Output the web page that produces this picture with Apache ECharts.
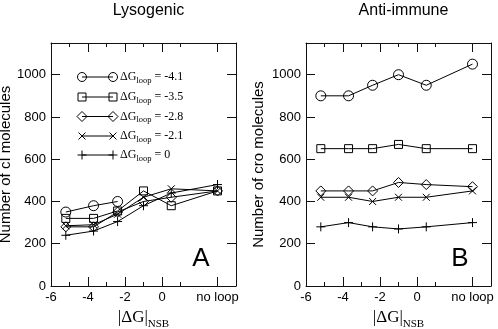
<!DOCTYPE html>
<html><head><meta charset="utf-8">
<script src="https://cdn.jsdelivr.net/npm/echarts@6/dist/echarts.min.js"></script>
<style>html,body{margin:0;padding:0;background:#fff}#c{width:498px;height:329px}</style>
</head><body><div id="c"></div>
<script>
// ---- data ----
const xPositions = [-5.2, -3.7, -2.4, -1.0, 0.5, 3];
const xTickValues = [-6, -4, -2, 0, 3];
const xTickLabels = ['-6', '-4', '-2', '0', 'no loop'];
const xMinorTicks = [-5, -3, -1, 1];
const yTickValues = [0, 200, 400, 600, 800, 1000];
const legendValues = ['-4.1', '-3.5', '-2.8', '-2.1', '0'];
const panelTitles = ['Lysogenic', 'Anti-immune'];
const panelYNames = ['Number of cI molecules', 'Number of cro molecules'];
const panelLetters = ['A', 'B'];

const lysoCircle  = [350, 380, 400];
const lysoSquare  = [320, 320, 355, 450, 380, 450];
const lysoDiamond = [280, 280, 350, 400, 420, 450];
const lysoCross   = [285, 290, 340, 420, 460, 450];
const lysoPlus    = [240, 260, 305, 380, 440, 480];

const antiCircle  = [900, 900, 950, 1000, 950, 1050];
const antiSquare  = [650, 650, 650, 670, 650, 650];
const antiDiamond = [450, 450, 450, 490, 480, 470];
const antiCross   = [420, 420, 400, 420, 420, 450];
const antiPlus    = [280, 300, 280, 270, 280, 300];

// ---- styling ----
const SANS = '"Liberation Sans", Arial, sans-serif';
const SERIF = '"Liberation Serif", "Times New Roman", serif';
const AX = '#111';
const symbolDefs = [
  {symbol: 'circle', size: 10},
  {symbol: 'rect', size: 8},
  {symbol: 'diamond', size: 10},
  {symbol: 'path://M0,0L8,8M8,0L0,8', size: 7},
  {symbol: 'path://M4,0L4,8M0,4L8,4', size: 9}
];
const panels = [
  {left: 51, series: [lysoCircle, lysoSquare, lysoDiamond, lysoCross, lysoPlus], yNameGap: 36},
  {left: 306, series: [antiCircle, antiSquare, antiDiamond, antiCross, antiPlus], yNameGap: 40}
];
const GW = 185, GT = 43, GH = 243;

const grids = [], xAxes = [], yAxes = [], series = [], titles = [];
const lineSt = {color: AX, width: 1};
panels.forEach((p, g) => {
  grids.push({left: p.left, top: GT, width: GW, height: GH, outerBoundsMode: 'none'});
  const baseX = {gridIndex: g, type: 'value', min: -6, max: 4, splitLine: {show: false}};
  xAxes.push(Object.assign({}, baseX, {
    position: 'bottom',
    axisLine: {show: true, onZero: false, lineStyle: lineSt},
    axisTick: {show: true, inside: true, length: 9, customValues: xTickValues, lineStyle: lineSt},
    axisLabel: {customValues: xTickValues, margin: 5, fontSize: 13, color: '#000', fontFamily: SANS,
      formatter: v => { const i = xTickValues.indexOf(v); return i >= 0 ? xTickLabels[i] : ''; }},
    name: '{a||ΔG|}{s|NSB}', nameLocation: 'middle', nameGap: 19,
    nameTextStyle: {rich: {
      a: {fontFamily: SERIF, fontSize: 17, color: '#000'},
      s: {fontFamily: SERIF, fontSize: 11, color: '#000', padding: [14, 0, 0, 0]}
    }}
  }));
  xAxes.push(Object.assign({}, baseX, {
    position: 'top',
    axisLine: {show: true, onZero: false, lineStyle: lineSt},
    axisTick: {show: true, inside: true, length: 9, customValues: xTickValues, lineStyle: lineSt},
    axisLabel: {show: false}
  }));
  ['bottom', 'top'].forEach(pos => xAxes.push(Object.assign({}, baseX, {
    position: pos,
    axisLine: {show: false, onZero: false},
    axisTick: {show: true, inside: true, length: 4, customValues: xMinorTicks, lineStyle: lineSt},
    axisLabel: {show: false}
  })));
  const baseY = {gridIndex: g, type: 'value', min: 0, max: 1150, splitLine: {show: false}};
  yAxes.push(Object.assign({}, baseY, {
    position: 'left',
    axisLine: {show: true, onZero: false, lineStyle: lineSt},
    axisTick: {show: true, inside: true, length: 9, customValues: yTickValues, lineStyle: lineSt},
    axisLabel: {customValues: yTickValues, margin: 5, fontSize: 13, color: '#000', fontFamily: SANS,
      formatter: v => String(v)},
    name: panelYNames[g], nameLocation: 'middle', nameGap: p.yNameGap,
    nameTextStyle: {fontSize: 15, color: '#000', fontFamily: SANS}
  }));
  yAxes.push(Object.assign({}, baseY, {
    position: 'right',
    axisLine: {show: true, onZero: false, lineStyle: lineSt},
    axisTick: {show: true, inside: true, length: 9, customValues: yTickValues, lineStyle: lineSt},
    axisLabel: {show: false}
  }));
  p.series.forEach((vals, k) => {
    series.push({
      type: 'line', xAxisIndex: g * 4, yAxisIndex: g * 2,
      data: vals.map((v, i) => [xPositions[i], v]),
      symbol: symbolDefs[k].symbol, symbolSize: symbolDefs[k].size, showAllSymbol: true,
      lineStyle: {color: '#000', width: 1},
      itemStyle: {color: 'rgba(0,0,0,0)', borderColor: '#000', borderWidth: 1},
      emphasis: {disabled: true}, z: 2 + k
    });
  });
  titles.push({text: panelTitles[g], left: p.left + GW / 2, textAlign: 'center', top: -2,
    textStyle: {fontSize: 16, fontWeight: 'normal', color: '#000', fontFamily: SANS}});
});

// ---- legend (drawn as graphics) ----
const graphics = [];
const legRows = [77, 97, 116.5, 136, 155];
const lx1 = 82, lx2 = 113, ltx = 120;
function sym(kind, cx, cy) {
  const st = {fill: 'none', stroke: '#000', lineWidth: 1};
  if (kind === 0) return {type: 'circle', shape: {cx, cy, r: 4.5}, style: st};
  if (kind === 1) return {type: 'rect', shape: {x: cx - 4, y: cy - 4, width: 8, height: 8}, style: st};
  if (kind === 2) return {type: 'polygon', shape: {points: [[cx, cy - 5], [cx + 5, cy], [cx, cy + 5], [cx - 5, cy]]}, style: st};
  if (kind === 3) return {type: 'group', children: [
    {type: 'line', shape: {x1: cx - 3.5, y1: cy - 3.5, x2: cx + 3.5, y2: cy + 3.5}, style: st},
    {type: 'line', shape: {x1: cx + 3.5, y1: cy - 3.5, x2: cx - 3.5, y2: cy + 3.5}, style: st}]};
  return {type: 'group', children: [
    {type: 'line', shape: {x1: cx, y1: cy - 4.5, x2: cx, y2: cy + 4.5}, style: st},
    {type: 'line', shape: {x1: cx - 4.5, y1: cy, x2: cx + 4.5, y2: cy}, style: st}]};
}
legendValues.forEach((val, k) => {
  const y = legRows[k];
  graphics.push({type: 'line', shape: {x1: lx1, y1: y, x2: lx2, y2: y}, style: {stroke: '#000', lineWidth: 1}});
  graphics.push(sym(k, lx1, y));
  graphics.push(sym(k, lx2, y));
  graphics.push({type: 'text', x: ltx, y: y, style: {
    text: '{d|ΔG}{s|loop}{d| = ' + val + '}', verticalAlign: 'middle', align: 'left',
    rich: {
      d: {fontFamily: SERIF, fontSize: 12, fill: '#000'},
      s: {fontFamily: SERIF, fontSize: 8.5, fill: '#000', padding: [7, 0, 0, 0]}
    }}});
});
panels.forEach((p, g) => {
  graphics.push({type: 'text', x: p.left + (g === 0 ? 150 : 154), y: 259, style: {
    text: panelLetters[g], align: 'center', verticalAlign: 'middle',
    font: '26px ' + SANS, fill: '#000'}});
});

const chart = echarts.init(document.getElementById('c'), null, {renderer: 'canvas'});
chart.setOption({
  animation: false, backgroundColor: '#fff',
  title: titles, grid: grids, xAxis: xAxes, yAxis: yAxes, series: series, graphic: graphics
});
</script></body></html>
